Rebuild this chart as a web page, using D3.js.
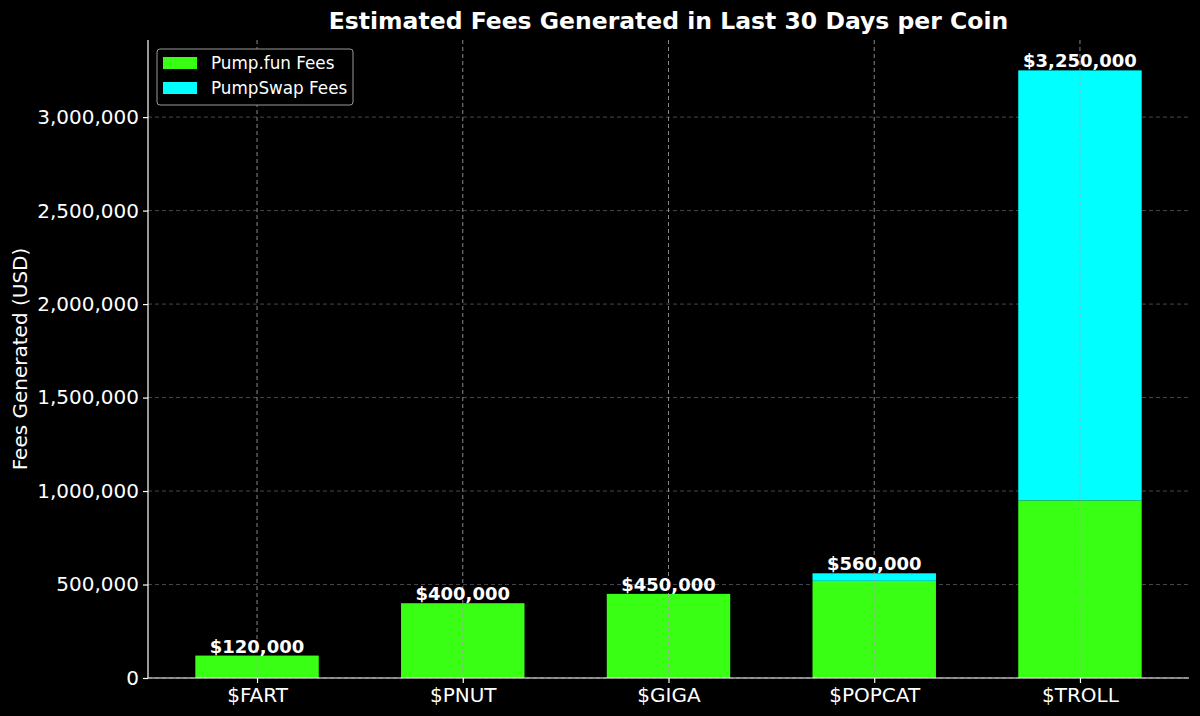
<!DOCTYPE html>
<html><head><meta charset="utf-8">
<script src="https://cdn.jsdelivr.net/npm/d3@7"></script>
<style>body{margin:0;background:#000;}svg{display:block;}text{font-family:"DejaVu Sans",sans-serif;}</style>
</head><body><svg id="c" width="1200" height="716"></svg>
<script>
const coins = ["$FART","$PNUT","$GIGA","$POPCAT","$TROLL"];
const pumpFun = [120000, 400000, 450000, 520000, 950000];
const pumpSwap = [0, 0, 0, 40000, 2300000];
const totals = [120000, 400000, 450000, 560000, 3250000];
const yTicks = [0,500000,1000000,1500000,2000000,2500000,3000000];
const seriesNames = ["Pump.fun Fees","PumpSwap Fees"];
const colors = ["#39ff14","#00ffff"];

const svg = d3.select("#c");
const L=148, R=1189, T=40, B=678;
const x = d3.scaleLinear().domain([-0.53, 4.53]).range([L,R]);
const y = d3.scaleLinear().domain([0, 3412500]).range([B,T]);
const fmt = d3.format(",");
const bw = x(0.6)-x(0);

// grid
svg.append("g").selectAll("line").data(yTicks).join("line")
  .attr("x1",L).attr("x2",R).attr("y1",d=>y(d)).attr("y2",d=>y(d))
  .attr("stroke","#5a5a5a").attr("stroke-width",0.8).attr("stroke-dasharray","4,3");

// bars
svg.append("g").selectAll("rect").data(coins).join("rect")
  .attr("x",(d,i)=>x(i)-bw/2).attr("width",bw)
  .attr("y",(d,i)=>y(pumpFun[i])).attr("height",(d,i)=>y(0)-y(pumpFun[i]))
  .attr("fill",colors[0]);
svg.append("g").selectAll("rect").data(coins).join("rect")
  .attr("x",(d,i)=>x(i)-bw/2).attr("width",bw)
  .attr("y",(d,i)=>y(pumpFun[i]+pumpSwap[i])).attr("height",(d,i)=>y(pumpFun[i])-y(pumpFun[i]+pumpSwap[i]))
  .attr("fill",colors[1]);

// vertical grid
svg.append("g").selectAll("line").data(coins).join("line")
  .attr("x1",(d,i)=>x(i)).attr("x2",(d,i)=>x(i)).attr("y1",T).attr("y2",B)
  .attr("stroke","#aaa").attr("stroke-width",0.8).attr("stroke-dasharray","4,3");

// value labels
svg.append("g").selectAll("text").data(coins).join("text")
  .attr("x",(d,i)=>x(i)).attr("y",(d,i)=>y(totals[i])-3)
  .attr("text-anchor","middle").attr("fill","#fff").attr("font-weight","bold").attr("font-size","18px")
  .text((d,i)=>"$"+fmt(totals[i]));

// axes
const ya = svg.append("g").attr("transform",`translate(${L},0)`)
  .call(d3.axisLeft(y).tickValues(yTicks).tickFormat(fmt).tickSize(5).tickPadding(4));
const xa = svg.append("g").attr("transform",`translate(0,${B})`)
  .call(d3.axisBottom(x).tickValues(d3.range(coins.length)).tickFormat(i=>coins[i]).tickSize(5).tickPadding(5));
[ya,xa].forEach(a=>{
  a.select(".domain").attr("stroke","#fff").attr("stroke-width",1.2);
  a.selectAll(".tick line").attr("stroke","#fff").attr("stroke-width",1.2);
  a.selectAll("text").attr("fill","#fff").attr("font-size","20px").attr("font-family","DejaVu Sans");
});
ya.select(".domain").attr("d",`M0,${B}V${T}`);
xa.select(".domain").attr("d",`M${L},0H${R}`);

// y label
svg.append("text").attr("transform",`translate(27,${(T+B)/2}) rotate(-90)`)
  .attr("text-anchor","middle").attr("fill","#fff").attr("font-size","20px").text("Fees Generated (USD)");

// title
svg.append("text").attr("x",(L+R)/2).attr("y",29).attr("text-anchor","middle")
  .attr("fill","#fff").attr("font-weight","bold").attr("font-size","23.5px")
  .text("Estimated Fees Generated in Last 30 Days per Coin");

// legend
const lg = svg.append("g");
lg.append("rect").attr("x",157).attr("y",49).attr("width",196).attr("height",56).attr("rx",3)
  .attr("fill","#000").attr("stroke","#999").attr("stroke-width",1);
seriesNames.forEach((s,i)=>{
  lg.append("rect").attr("x",163).attr("y",57+i*25).attr("width",34).attr("height",12).attr("fill",colors[i]);
  lg.append("text").attr("x",211).attr("y",69+i*25).attr("fill","#fff").attr("font-size","16.8px").text(s);
});
</script></body></html>
